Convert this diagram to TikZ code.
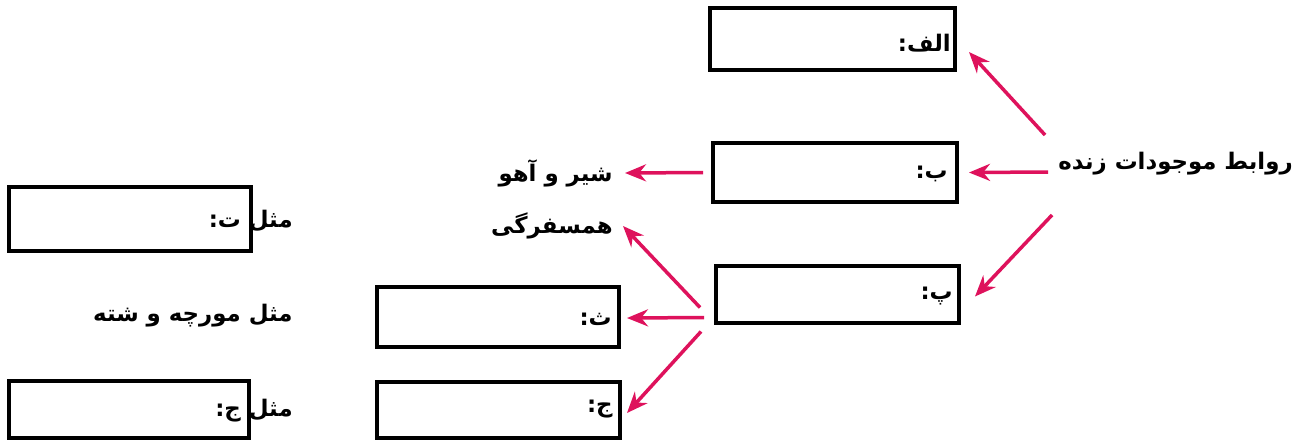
\documentclass[tikz,border=0pt]{standalone}
\usepackage{fontspec}
\usetikzlibrary{arrows.meta}
\TeXXeTstate=1
\newfontfamily\arabicfont[Script=Arabic]{DejaVu Sans}
\definecolor{relred}{RGB}{222,18,92}
\newcommand{\fa}[1]{\arabicfont\bfseries\beginR #1\endR}

\begin{document}
\begin{tikzpicture}[x=0.02cm,y=-0.02cm,
	slot/.style={draw=black, line width=0.08cm, inner sep=0pt},
	word/.style={inner sep=0pt, font=\fontsize{13}{15}\selectfont},
	rel/.style={draw=relred, line width=0.07cm, -{Stealth[length=0.42cm,width=0.34cm]}}]
		%%%%% START %%%%%
		\useasboundingbox (0,0) rectangle (1301,441);
		
		% boxes
		\node[slot, minimum width=4.90cm, minimum height=1.24cm] (alef) at (832.5,39) {};
		\node[slot, minimum width=4.88cm, minimum height=1.18cm] (be) at (835,172.5) {};
		\node[slot, minimum width=4.86cm, minimum height=1.14cm] (pe) at (837.5,294.5) {};
		\node[slot, minimum width=4.84cm, minimum height=1.20cm] (se) at (498,317) {};
		\node[slot, minimum width=4.86cm, minimum height=1.12cm] (jim) at (498.5,410) {};
		\node[slot, minimum width=4.84cm, minimum height=1.28cm] (te) at (130,219) {};
		\node[slot, minimum width=4.80cm, minimum height=1.14cm] (jimex) at (129,409.5) {};
		
		% texts
		\node[word, anchor=east] (root) at (1293,164) {\fa{روابط موجودات زنده}};
		\node[word, anchor=east] (alefl) at (951,43) {\fa{الف:}};
		\node[word, anchor=east] (bel) at (948,174) {\fa{ب:}};
		\node[word, anchor=east] (pel) at (953,296) {\fa{پ:}};
		\node[word, anchor=east] (sel) at (612,319) {\fa{ث:}};
		\node[word, anchor=east] (jiml) at (613,409) {\fa{ج:}};
		\node[word, anchor=east] (shir) at (613,173) {\fa{شیر و آهو}};
		\node[word, anchor=east] (hamsafar) at (613,226) {\fa{همسفرگی}};
		\node[word, anchor=east] (tel) at (293,221) {\fa{مثل ت:}};
		\node[word, anchor=east] (murche) at (293,316) {\fa{مثل مورچه و شته}};
		\node[word, anchor=east] (jimexl) at (293,411) {\fa{مثل ج:}};
		
		% arrows
		\draw[rel] ([shift={(-13,-29)}]root.west) -- ([shift={(12,13)}]alef.east);
		\draw[rel] ([shift={(-10,8)}]root.west) -- ([shift={(10,0)}]be.east);
		\draw[rel] ([shift={(-6,51)}]root.west) -- ([shift={(14,2)}]pe.east);
		\draw[rel] ([shift={(-8,0)}]be.west) -- ([shift={(12,0)}]shir.east);
		\draw[rel] ([shift={(-14,13)}]pe.west) -- ([shift={(10,0)}]hamsafar.east);
		\draw[rel] ([shift={(-10,23)}]pe.west) -- ([shift={(6,1)}]se.east);
		\draw[rel] ([shift={(-13,37)}]pe.west) -- ([shift={(5,3)}]jim.east);
		
		%%%%% END %%%%%
\end{tikzpicture}
\end{document}
